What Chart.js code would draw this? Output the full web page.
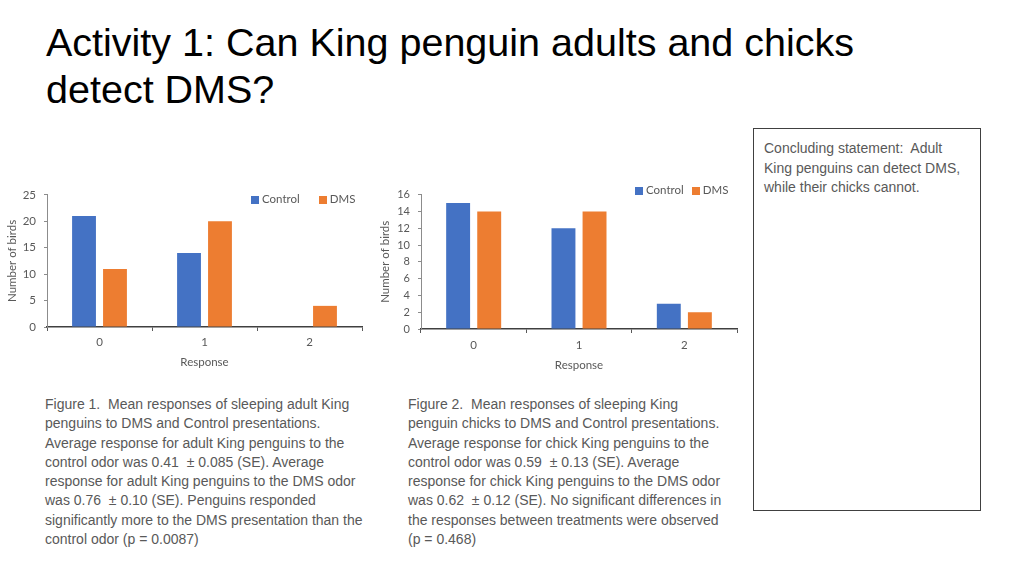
<!DOCTYPE html>
<html lang="en">
  <head>
    <meta charset="UTF-8" />
    <meta name="viewport" content="width=device-width, initial-scale=1.0" />
    <script src="https://cdn.jsdelivr.net/npm/chart.js"></script>
    <title>Activity 1</title>
    <style>
      body { margin: 0; width: 1024px; height: 576px; position: relative; background: #fff; overflow: hidden; font-family: "Liberation Sans", Arial, sans-serif; }
      .title { position: absolute; left: 46px; top: 19px; font-size: 39.5px; line-height: 47px; color: #000; white-space: nowrap; }
      .caption { position: absolute; top: 395px; font-size: 14px; line-height: 19.3px; color: #595959; white-space: nowrap; }
      .box { position: absolute; left: 753px; top: 128px; width: 226px; height: 381px; border: 1px solid #404040; }
      .box p { margin: 10px 0 0 10px; font-size: 14px; line-height: 19.6px; color: #595959; white-space: nowrap; }
      .chart { position: absolute; }
      .legend { position: absolute; display: flex; font-family: Lato, sans-serif; font-size: 11.5px; color: #595959; }
      .legend span.sw { display: inline-block; width: 8px; height: 8px; margin-right: 3px; vertical-align: -0.5px; }
    </style>
  </head>
  <body>
    <div class="title">Activity 1: Can King penguin adults and chicks<br>detect DMS?</div>

    <div class="chart" style="left: 0px; top: 180px; width: 375px; height: 200px">
      <canvas id="adults"></canvas>
    </div>
    <div class="legend" id="legend1" style="left: 251px; top: 192px; gap: 19px"></div>

    <div class="chart" style="left: 375px; top: 180px; width: 375px; height: 205px">
      <canvas id="chicks"></canvas>
    </div>
    <div class="legend" id="legend2" style="left: 635px; top: 183px; gap: 8px"></div>

    <div class="caption" style="left: 45px">Figure 1.&nbsp; Mean responses of sleeping adult King<br>penguins to DMS and Control presentations.<br>Average response for adult King penguins to the<br>control odor was 0.41 &nbsp;± 0.085 (SE). Average<br>response for adult King penguins to the DMS odor<br>was 0.76 &nbsp;± 0.10 (SE). Penguins responded<br>significantly more to the DMS presentation than the<br>control odor (p = 0.0087)</div>
    <div class="caption" style="left: 408px">Figure 2.&nbsp; Mean responses of sleeping King<br>penguin chicks to DMS and Control presentations.<br>Average response for chick King penguins to the<br>control odor was 0.59 &nbsp;± 0.13 (SE). Average<br>response for chick King penguins to the DMS odor<br>was 0.62 &nbsp;± 0.12 (SE). No significant differences in<br>the responses between treatments were observed<br>(p = 0.468)</div>

    <div class="box"><p>Concluding statement:&nbsp; Adult<br>King penguins can detect DMS,<br>while their chicks cannot.</p></div>

    <script>
      const responses = ['0', '1', '2'];
      const adultControl = [21, 14, 0];
      const adultDMS = [11, 20, 4];
      const chickControl = [15, 12, 3];
      const chickDMS = [14, 14, 2];
      const seriesNames = ['Control', 'DMS'];
      const blue = '#4472C4';
      const orange = '#ED7D31';
      const grey = '#595959';
      const axisFont = { family: 'Lato', size: 11.5 };

      function makeChart(canvas, control, dms, yMax, yStep, opts) {
        return new Chart(canvas, {
          type: 'bar',
          data: {
            labels: responses,
            datasets: [
              { label: seriesNames[0], data: control, backgroundColor: blue },
              { label: seriesNames[1], data: dms, backgroundColor: orange }
            ]
          },
          options: {
            responsive: true,
            maintainAspectRatio: false,
            animation: false,
            categoryPercentage: 0.59,
            barPercentage: 0.77,
            layout: { padding: { top: opts.padTop, right: 13, left: 0, bottom: 0 } },
            plugins: { legend: { display: false }, tooltip: { enabled: false } },
            scales: {
              x: {
                grid: { offset: true, drawOnChartArea: false, drawTicks: true, tickLength: 4, color: grey, lineWidth: 1 },
                border: { display: true, color: '#404040', width: 1.5 },
                ticks: { color: grey, padding: opts.xPad, font: axisFont },
                title: { display: true, text: 'Response', color: grey, font: axisFont, padding: { top: 0, bottom: opts.xTitlePad } },
                afterFit: (s) => { s.height = opts.xHeight; }
              },
              y: {
                min: 0,
                max: yMax,
                grid: { drawOnChartArea: false, drawTicks: true, tickLength: 3, color: '#8c8c8c' },
                border: { display: true, color: '#8c8c8c', width: 1 },
                ticks: { stepSize: yStep, autoSkip: false, color: grey, padding: 8, font: { family: 'Lato', size: opts.yTickSize } },
                title: { display: true, text: 'Number of birds', color: grey, font: axisFont, padding: { top: opts.yTitlePad, bottom: 0 } },
                afterFit: (s) => { s.width = opts.yWidth; }
              }
            }
          }
        });
      }

      function makeLegend(el, chart) {
        chart.data.datasets.forEach((ds) => {
          const item = document.createElement('div');
          const sw = document.createElement('span');
          sw.className = 'sw';
          sw.style.background = ds.backgroundColor;
          item.appendChild(sw);
          item.appendChild(document.createTextNode(ds.label));
          el.appendChild(item);
        });
      }

      const adultChart = makeChart(document.getElementById('adults'), adultControl, adultDMS, 25, 5,
        { padTop: 10, xHeight: 53, xPad: 4, xTitlePad: 11, yWidth: 47, yTitlePad: 5, yTickSize: 11.5 });
      const chickChart = makeChart(document.getElementById('chicks'), chickControl, chickDMS, 16, 2,
        { padTop: 11, xHeight: 56, xPad: 5, xTitlePad: 13, yWidth: 46, yTitlePad: 3, yTickSize: 11 });
      makeLegend(document.getElementById('legend1'), adultChart);
      makeLegend(document.getElementById('legend2'), chickChart);
    </script>
  </body>
</html>
